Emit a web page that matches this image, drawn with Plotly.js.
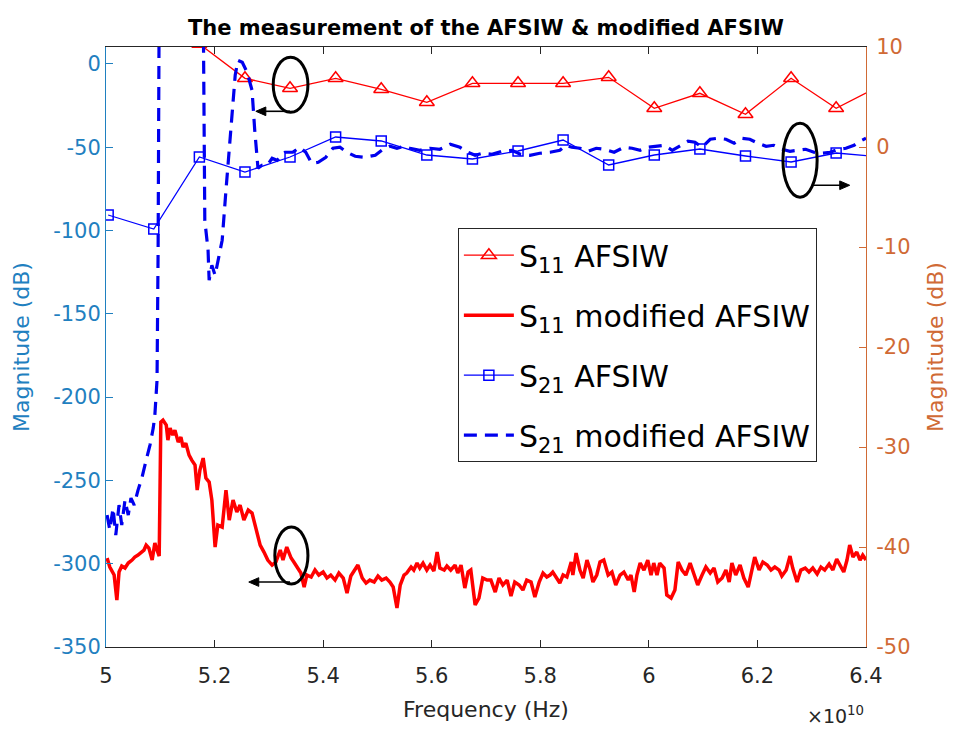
<!DOCTYPE html>
<html>
<head>
<meta charset="utf-8">
<script src="https://cdn.plot.ly/plotly-3.0.1.min.js"></script>
<style>html,body{margin:0;padding:0;background:#fff;}#chart{width:953px;height:731px;}</style>
</head>
<body>
<div id="chart"></div>
<script>
// Frequency in units of 1e10 Hz
const freqAF = [5.004, 5.088, 5.172, 5.256, 5.339, 5.423, 5.507, 5.591, 5.675, 5.759, 5.842, 5.926, 6.010, 6.094, 6.178, 6.262, 6.345, 6.429];
// S11 AFSIW (left axis, dB)
const s11AF = [null, null, 12, -8.6, -14.6, -8.6, -15.2, -23, -11.6, -11.6, -11.6, -8, -26.6, -17.6, -30.2, -8.6, -26.6, -12.6];
// S21 AFSIW (right axis, dB)
const s21AF = [-6.8, -8.2, -1.0, -2.5, -1.0, 1.0, 0.6, -0.8, -1.2, -0.4, 0.7, -1.8, -0.8, -0.2, -0.9, -1.5, -0.6, -1.0];

// S11 modified AFSIW (left axis, dB)
const s11ModF = [5.002,5.007,5.015,5.020,5.024,5.029,5.035,5.041,5.048,5.053,
5.059,5.064,5.070,5.074,5.079,5.085,5.090,5.094,5.098,5.101,
5.105,5.111,5.114,5.118,5.123,5.127,5.133,5.138,5.142,5.147,
5.153,5.158,5.164,5.168,5.173,5.179,5.184,5.190,5.195,5.201,
5.206,5.214,5.221,5.227,5.234,5.241,5.247,5.254,5.262,5.269,
5.276,5.284,5.291,5.298,5.306,5.313,5.321,5.326,5.333,5.341,
5.346,5.354,5.359,5.365,5.370,5.378,5.385,5.392,5.400,5.407,
5.414,5.422,5.429,5.437,5.444,5.451,5.459,5.464,5.472,5.479,
5.486,5.494,5.501,5.508,5.516,5.523,5.529,5.536,5.542,5.549,
5.554,5.562,5.567,5.573,5.578,5.584,5.591,5.597,5.604,5.610,
5.615,5.623,5.628,5.635,5.643,5.648,5.654,5.661,5.667,5.672,
5.680,5.687,5.694,5.702,5.709,5.717,5.724,5.731,5.739,5.746,
5.753,5.761,5.768,5.775,5.783,5.790,5.798,5.805,5.812,5.818,
5.823,5.831,5.836,5.842,5.849,5.857,5.860,5.866,5.873,5.879,
5.886,5.892,5.897,5.904,5.910,5.917,5.925,5.932,5.939,5.947,
5.954,5.962,5.967,5.973,5.978,5.984,5.991,5.998,6.004,6.009,
6.015,6.020,6.028,6.033,6.041,6.048,6.054,6.061,6.068,6.076,
6.083,6.090,6.098,6.105,6.113,6.120,6.127,6.135,6.142,6.148,
6.153,6.160,6.168,6.175,6.183,6.190,6.195,6.203,6.210,6.218,
6.225,6.232,6.240,6.245,6.253,6.260,6.265,6.273,6.280,6.288,
6.295,6.302,6.310,6.317,6.324,6.332,6.339,6.346,6.352,6.359,
6.365,6.370,6.376,6.383,6.389,6.394,6.400];
const s11Mod = [-296.6,-302.0,-306.8,-321.8,-305.0,-301.4,-302.6,-299.6,-297.8,-296.0,
-294.8,-293.6,-291.8,-288.8,-290.6,-297.8,-287.6,-291.8,-295.4,-215.0,
-213.8,-216.8,-225.8,-218.6,-222.8,-219.8,-227.0,-224.0,-230.0,-227.6,
-234.8,-237.8,-240.8,-255.8,-243.8,-236.6,-248.6,-251.0,-261.8,-290.0,
-276.8,-278.0,-255.8,-273.8,-261.8,-269.0,-264.8,-273.8,-267.8,-269.6,
-278.6,-288.8,-293.0,-297.8,-300.8,-299.0,-291.8,-297.8,-290.0,-296.6,
-299.0,-302.6,-305.6,-314.0,-306.8,-308.0,-303.8,-306.8,-305.0,-308.6,
-306.8,-309.8,-305.6,-308.6,-317.6,-307.4,-303.8,-300.8,-308.6,-311.6,
-309.8,-311.0,-307.4,-309.8,-308.6,-311.0,-314.0,-326.6,-312.8,-306.8,
-305.6,-302.0,-303.8,-299.6,-302.6,-299.6,-303.8,-300.8,-304.4,-293.0,
-302.6,-303.8,-301.4,-303.8,-300.8,-305.6,-300.8,-314.6,-305.0,-303.8,
-324.8,-320.6,-308.6,-309.8,-309.8,-317.0,-308.6,-312.8,-309.8,-319.4,
-311.0,-312.8,-315.8,-309.8,-311.0,-320.0,-311.0,-305.6,-308.0,-306.8,
-305.0,-308.6,-311.6,-306.8,-308.0,-299.0,-306.8,-293.6,-303.8,-308.6,
-297.8,-303.8,-311.0,-306.8,-299.0,-297.8,-306.8,-305.0,-312.8,-306.8,
-305.0,-309.8,-306.8,-317.0,-306.8,-299.6,-303.8,-297.8,-306.8,-299.6,
-306.8,-299.6,-302.6,-318.8,-320.6,-315.8,-299.0,-303.8,-306.8,-299.6,
-306.8,-312.8,-306.8,-302.0,-305.6,-302.6,-311.0,-308.6,-303.8,-311.0,
-299.6,-306.8,-300.8,-308.6,-314.0,-303.8,-296.0,-303.8,-299.0,-300.8,
-303.8,-302.0,-303.8,-307.4,-303.8,-295.4,-302.6,-311.0,-303.8,-302.6,
-305.0,-302.6,-306.2,-302.0,-303.8,-300.2,-303.8,-297.2,-300.8,-305.0,
-297.8,-288.8,-296.0,-293.0,-297.8,-294.8,-297.8];

// S21 modified AFSIW (left axis, dB)
const s21ModF = [5.002,5.007,5.013,5.018,5.024,5.029,5.035,5.041,5.046,5.052,
5.059,5.066,5.074,5.081,5.087,5.090,5.094,5.096,5.098,5.179,
5.182,5.188,5.190,5.195,5.201,5.206,5.214,5.221,5.227,5.232,
5.238,5.243,5.251,5.260,5.269,5.274,5.280,5.287,5.297,5.306,
5.315,5.330,5.344,5.357,5.368,5.379,5.391,5.405,5.418,5.431,
5.444,5.459,5.477,5.496,5.508,5.523,5.536,5.549,5.560,5.578,
5.597,5.615,5.634,5.652,5.667,5.680,5.694,5.711,5.729,5.748,
5.763,5.781,5.799,5.818,5.836,5.847,5.858,5.873,5.888,5.903,
5.917,5.936,5.954,5.969,5.984,5.998,6.013,6.028,6.043,6.057,
6.072,6.085,6.098,6.113,6.127,6.142,6.157,6.172,6.186,6.201,
6.216,6.230,6.245,6.260,6.275,6.289,6.304,6.319,6.334,6.348,
6.363,6.378,6.389,6.400];
const s21Mod = [-270.8,-279.8,-266.6,-282.8,-264.8,-276.8,-261.8,-270.8,-260.6,-264.8,
-255.8,-248.6,-237.8,-228.8,-218.6,-210.8,-189.8,-111.8,40,40,
-93.8,-111.8,-129.8,-120.8,-126.8,-119.0,-105.8,-75.8,-51.8,-33.8,
-6.8,2.2,1.0,-5.0,-15.8,-39.8,-62.6,-60.8,-60.8,-56.6,
-57.8,-53.0,-53.0,-50.0,-53.0,-59.6,-59.0,-56.0,-50.6,-50.0,
-53.0,-55.4,-56.0,-54.8,-51.8,-49.4,-50.6,-49.4,-50.6,-51.8,
-50.6,-51.2,-48.2,-50.0,-53.0,-54.8,-53.6,-54.2,-52.4,-51.8,
-54.2,-54.8,-53.6,-53.0,-51.8,-48.8,-50.0,-50.6,-52.4,-50.6,
-51.2,-53.0,-50.0,-50.6,-51.8,-50.0,-49.4,-48.8,-51.8,-49.4,
-46.4,-47.0,-50.0,-45.2,-44.6,-45.2,-47.6,-44.6,-45.2,-47.6,
-49.4,-48.8,-51.2,-52.4,-51.8,-51.2,-53.0,-53.6,-53.0,-51.2,
-50.6,-48.8,-46.4,-44.6];

const xTicks = [5, 5.2, 5.4, 5.6, 5.8, 6, 6.2, 6.4];
const xTickText = ['5', '5.2', '5.4', '5.6', '5.8', '6', '6.2', '6.4'];
const leftTicks = [-350, -300, -250, -200, -150, -100, -50, 0];
const leftTickText = ['-350', '-300', '-250', '-200', '-150', '-100', '-50', '0'];
const rightTicks = [-50, -40, -30, -20, -10, 0, 10];
const rightTickText = ['-50', '-40', '-30', '-20', '-10', '0', '10'];

const FONT = 'DejaVu Sans, Liberation Sans, Arial, sans-serif';
const LEFTC = '#1f80c0';
const RIGHTC = '#d06a35';
const AXC = '#262626';

const traces = [
  {x: freqAF, y: s11AF, name: 'S<sub>11</sub> AFSIW', type: 'scatter', mode: 'lines+markers',
   yaxis: 'y', legendgroup: 'a',
   line: {color: '#ff0000', width: 1.3},
   marker: {symbol: 'triangle-up-open', size: 13, color: '#ff0000', line: {width: 1.5, color: '#ff0000'}}},
  {x: s11ModF, y: s11Mod, name: 'S<sub>11</sub> modified AFSIW', type: 'scatter', mode: 'lines',
   yaxis: 'y', legendgroup: 'b',
   line: {color: '#ff0000', width: 3.5}},
  {x: freqAF, y: s21AF, name: 'S<sub>21</sub> AFSIW', type: 'scatter', mode: 'lines+markers',
   yaxis: 'y2', legendgroup: 'c',
   line: {color: '#0000ff', width: 1.3},
   marker: {symbol: 'square-open', size: 10, color: '#0000ff', line: {width: 1.5, color: '#0000ff'}}},
  {x: s21ModF, y: s21Mod, name: 'S<sub>21</sub> modified AFSIW', type: 'scatter', mode: 'lines',
   yaxis: 'y', legendgroup: 'd',
   line: {color: '#0000ee', width: 3.2, dash: '13px,8px'}}
];

const ellipse = (x0, x1, y0, y1) => ({type: 'circle', xref: 'x', yref: 'y', x0: x0, x1: x1, y0: y0, y1: y1,
  line: {color: '#000', width: 3}});
// arrow shaft from tail to head, plus a filled head (head length ~10px, half width ~4px)
const shaft = (xh, xt, y) => ({type: 'line', xref: 'x', yref: 'y', x0: xt, x1: xh, y0: y, y1: y,
  line: {color: '#000', width: 1.6}});
const head = (xh, dir, y) => {
  const xb = xh - dir * 0.0184;
  return {type: 'path', xref: 'x', yref: 'y', fillcolor: '#000', line: {color: '#000', width: 1},
    path: 'M ' + xh + ',' + y + ' L ' + xb + ',' + (y + 2.6) + ' L ' + xb + ',' + (y - 2.6) + ' Z'};
};

const layout = {
  width: 953, height: 731,
  margin: {l: 106, r: 87, t: 47, b: 84},
  paper_bgcolor: '#fff', plot_bgcolor: '#fff',
  font: {family: FONT, color: AXC},
  showlegend: true,
  title: {text: '<b>The measurement of the AFSIW & modified AFSIW</b>', x: 0.5, xref: 'paper', xanchor: 'center',
          y: 0.962, yref: 'container', yanchor: 'middle', font: {size: 21, color: '#000', family: FONT}},
  xaxis: {range: [5, 6.4], tickvals: xTicks, ticktext: xTickText, ticks: 'inside', ticklen: 7, tickwidth: 1,
          tickcolor: AXC, showline: true, linecolor: AXC, linewidth: 1, mirror: 'ticks', showgrid: false, zeroline: false,
          tickfont: {size: 21, color: AXC}, ticklabelstandoff: 10,
          title: {text: 'Frequency (Hz)', font: {size: 22, color: AXC}, standoff: 14}},
  yaxis: {range: [-350, 10.2], tickvals: leftTicks, ticktext: leftTickText, ticks: 'inside', ticklen: 7, tickwidth: 1,
          tickcolor: LEFTC, showline: true, linecolor: LEFTC, linewidth: 1, showgrid: false, zeroline: false,
          tickfont: {size: 21, color: LEFTC},
          title: {text: 'Magnitude (dB)', font: {size: 22, color: LEFTC}, standoff: 17}},
  yaxis2: {range: [-50, 10], overlaying: 'y', side: 'right', tickvals: rightTicks, ticktext: rightTickText,
           ticks: 'inside', ticklen: 7, tickwidth: 1, tickcolor: RIGHTC, showline: true, linecolor: RIGHTC, linewidth: 1,
           showgrid: false, zeroline: false, tickfont: {size: 21, color: RIGHTC}, ticklabelstandoff: 5,
           title: {text: 'Magnitude (dB)', font: {size: 22, color: RIGHTC}, standoff: 18}},
  legend: {x: 0.463, y: 0.698, xanchor: 'left', yanchor: 'top', bgcolor: '#fff', bordercolor: AXC, borderwidth: 1,
           font: {size: 30, color: '#000', family: FONT}, itemwidth: 50, tracegroupgap: 18, traceorder: 'grouped'},
  shapes: [
    ellipse(5.308, 5.372, -29.0, 4.0),
    ellipse(6.247, 6.310, -80, -35.6),
    ellipse(5.311, 5.372, -312.2, -278),
    shaft(5.285, 5.339, -28.4), head(5.276, -1, -28.4),
    shaft(6.360, 6.300, -72.8), head(6.370, 1, -72.8),
    shaft(5.272, 5.339, -311), head(5.263, -1, -311)
  ],
  annotations: [
    {xref: 'paper', yref: 'paper', x: 1.0, y: -0.113, xanchor: 'right', yanchor: 'middle', showarrow: false,
     text: '\u00d710<sup>10</sup>', font: {size: 19, color: AXC}}
  ]
};

Plotly.newPlot('chart', traces, layout, {displayModeBar: false, staticPlot: true});
</script>
</body>
</html>
